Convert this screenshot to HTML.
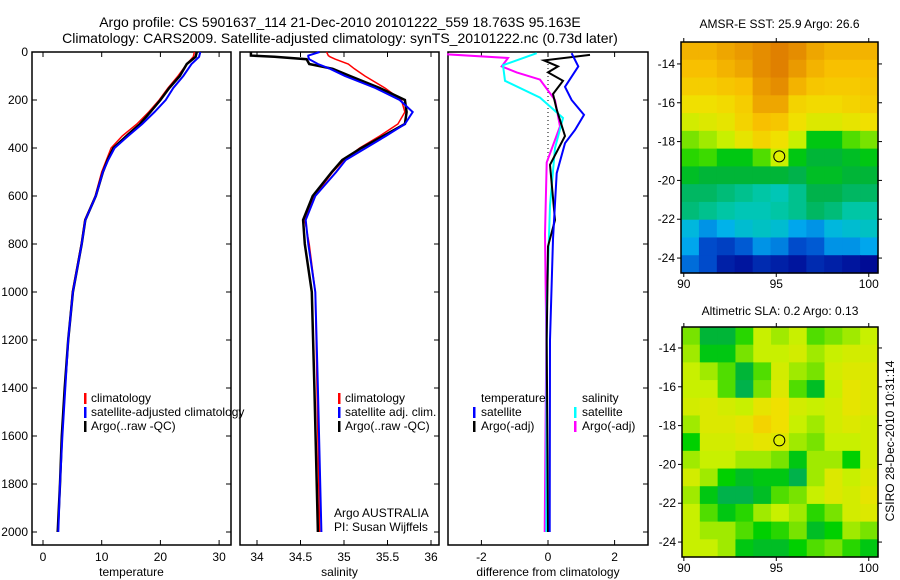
<!DOCTYPE html>
<html><head><meta charset="utf-8"><style>
body{margin:0;background:#fff;}
svg{display:block;font-family:"Liberation Sans",sans-serif;}
</style></head><body>
<svg id="chart" width="900" height="580" xmlns="http://www.w3.org/2000/svg"></svg>
<script>
// ---------- data ----------
const depths = [0,20,50,100,150,200,250,300,350,400,450,500,600,700,800,1000,1200,1400,1600,1800,2000];
const tempArgo = [26.2,26.0,24.5,23.3,21.5,20.0,18.3,16.5,14.2,12.0,11.0,10.2,9.0,7.2,6.6,5.1,4.3,3.7,3.2,2.9,2.5];
const tempClim = [25.8,25.6,24.5,23.0,21.3,19.8,18.0,16.0,13.5,11.6,10.8,10.0,8.9,7.1,6.5,5.0,4.3,3.7,3.2,2.9,2.5];
const tempSat  = [26.8,26.6,25.3,23.9,22.2,20.9,19.0,16.9,14.5,12.2,11.1,10.2,9.0,7.2,6.6,5.1,4.3,3.8,3.3,2.9,2.6];
const salDepths = [0,15,20,30,50,70,100,150,200,250,300,350,400,450,500,600,700,800,1000,1400,2000];
const salArgo = [33.93,33.93,34.2,34.57,34.6,34.87,35.07,35.41,35.7,35.72,35.7,35.45,35.2,34.98,34.86,34.64,34.53,34.55,34.63,34.66,34.7];
const salClim = [34.8,34.82,34.84,34.9,35.05,35.12,35.24,35.47,35.66,35.7,35.62,35.41,35.18,35.0,34.87,34.66,34.55,34.6,34.67,34.69,34.72];
const salSat  = [34.72,34.59,34.59,34.6,34.7,34.84,35.01,35.36,35.64,35.79,35.7,35.48,35.25,35.02,34.91,34.67,34.56,34.59,34.67,34.7,34.74];
const dTempSatDepth = [5,60,145,200,262,325,380,505,780,1200,2000];
const dTempSat = [0.71,0.91,0.51,0.71,1.08,0.81,0.51,0.26,0.15,0.06,0.05];
const dTempArgoDepth = [12,35,60,85,120,175,240,350,470,700,810,1200,2000];
const dTempArgo = [1.26,-0.12,0.3,0.0,0.45,0.15,0.26,0.51,0.06,0.21,0.0,-0.04,0.0];
const dSalSatDepth = [5,55,120,190,275,400,640,1060,2000];
const dSalSat = [-0.34,-1.35,-1.29,-0.24,0.45,0.21,0.06,-0.04,-0.05];
const dSalArgoDepth = [5,10,25,60,85,115,200,310,460,760,1200,2000];
const dSalArgo = [-3.0,-3.0,-1.2,-1.39,-0.94,-0.24,0.21,0.36,-0.04,-0.09,-0.05,-0.1];
const depthTicks = [0,200,400,600,800,1000,1200,1400,1600,1800,2000];
const tempTicks = [0,10,20,30];
const salTicks = [34,34.5,35,35.5,36];
const diffTicks = [-2,0,2];
const latTicks = [-14,-16,-18,-20,-22,-24];
const lonTicks = [90,95,100];
const sstGrid = [
[0.82,0.82,0.84,0.86,0.88,0.9,0.88,0.84,0.82,0.82,0.82],
[0.8,0.8,0.82,0.84,0.88,0.9,0.86,0.82,0.8,0.8,0.8],
[0.76,0.76,0.78,0.8,0.86,0.88,0.82,0.78,0.77,0.77,0.78],
[0.7,0.7,0.72,0.76,0.84,0.84,0.74,0.72,0.72,0.74,0.76],
[0.64,0.66,0.68,0.74,0.8,0.78,0.7,0.66,0.66,0.68,0.7],
[0.58,0.6,0.62,0.68,0.74,0.7,0.62,0.5,0.5,0.56,0.58],
[0.54,0.55,0.5,0.5,0.56,0.62,0.5,0.46,0.46,0.48,0.5],
[0.48,0.46,0.46,0.46,0.46,0.46,0.44,0.48,0.48,0.46,0.46],
[0.42,0.42,0.4,0.38,0.36,0.34,0.38,0.44,0.44,0.42,0.42],
[0.4,0.38,0.36,0.34,0.34,0.36,0.38,0.42,0.4,0.36,0.36],
[0.28,0.22,0.26,0.3,0.32,0.3,0.24,0.22,0.28,0.3,0.32],
[0.24,0.14,0.12,0.16,0.22,0.2,0.14,0.16,0.22,0.22,0.24],
[0.18,0.14,0.06,0.04,0.08,0.06,0.04,0.08,0.06,0.04,0.02]];
const slaGrid = [
[0.58,0.46,0.46,0.54,0.62,0.6,0.62,0.56,0.58,0.6,0.62],
[0.6,0.5,0.5,0.58,0.62,0.62,0.64,0.6,0.62,0.64,0.64],
[0.62,0.6,0.56,0.46,0.56,0.64,0.6,0.58,0.64,0.66,0.66],
[0.62,0.62,0.56,0.44,0.58,0.66,0.56,0.48,0.62,0.68,0.66],
[0.64,0.66,0.64,0.62,0.68,0.7,0.64,0.62,0.64,0.68,0.66],
[0.6,0.66,0.66,0.68,0.74,0.7,0.62,0.6,0.64,0.66,0.64],
[0.52,0.64,0.64,0.66,0.68,0.66,0.6,0.58,0.62,0.62,0.64],
[0.6,0.62,0.62,0.6,0.6,0.58,0.5,0.6,0.6,0.52,0.64],
[0.64,0.6,0.52,0.48,0.5,0.5,0.44,0.6,0.66,0.62,0.66],
[0.6,0.5,0.44,0.44,0.48,0.56,0.58,0.62,0.66,0.64,0.68],
[0.62,0.56,0.5,0.54,0.6,0.62,0.6,0.54,0.58,0.64,0.66],
[0.62,0.6,0.6,0.56,0.52,0.54,0.58,0.48,0.52,0.6,0.58],
[0.62,0.62,0.6,0.5,0.48,0.48,0.52,0.56,0.58,0.54,0.5]];
const floatLon = 95.163, floatLat = -18.763;

// ---------- helpers ----------
const NS="http://www.w3.org/2000/svg";
const svg=document.getElementById('chart');
function mk(tag,attrs,parent){const e=document.createElementNS(NS,tag);for(const k in attrs)e.setAttribute(k,attrs[k]);(parent||svg).appendChild(e);return e;}
function txt(s,x,y,size,anchor,parent){const t=mk('text',{x:x,y:y,'font-size':size,'text-anchor':anchor||'start',fill:'#000'},parent);t.textContent=s;return t;}
const yD=d=>52+d*0.24;
const xT=v=>43+v*5.87;
const xS=v=>257+(v-34)*87;
const xDf=v=>548+v*33.3;

function panel(name,x0,x1,xs,ticks,fmt,label,showY){
  const g=mk('g',{});
  
  
  mk('rect',{x:x0,y:52,width:x1-x0,height:493,fill:'none',stroke:'#000','stroke-width':1.5},g);
  ticks.forEach(t=>{const x=xs(t);
    mk('line',{x1:x,x2:x,y1:545,y2:540,stroke:'#000'},g);
    mk('line',{x1:x,x2:x,y1:52,y2:57,stroke:'#000'},g);
    const tl=txt(fmt(t),x,561,12,'middle',g);
    
    
  });
  depthTicks.forEach(d=>{const y=yD(d);
    mk('line',{x1:x1,x2:x1-5,y1:y,y2:y,stroke:'#000'},g);
    if(showY){mk('line',{x1:x0,x2:x0+5,y1:y,y2:y,stroke:'#000'},g);
      const tl=txt(String(d),28,y+4,12,'end',g);
      
      }
  });
  const xl=txt(label,(x0+x1)/2,576,12,'middle',g);
  
  
  return g;
}
function line(g,xs,vals,ds,color,w,name){
  const pts=vals.map((v,i)=>xs(v).toFixed(1)+','+yD(ds[i]).toFixed(1)).join(' ');
  const p=mk('polyline',{points:pts,fill:'none',stroke:color,'stroke-width':w,'stroke-linejoin':'miter'},g);
  
  
}
function legend(g,items,x,y){
  items.forEach((it,i)=>{
    if(it[1]) mk('rect',{x:x,y:y+i*14-9,width:2.5,height:11,fill:it[1]},g);
    const t=txt(it[0],x+(it[2]||7),y+i*14,12,'start',g);
    
    
  });
}

// titles
let t=txt('Argo profile: CS 5901637_114 21-Dec-2010 20101222_559 18.763S 95.163E',340,27,14,'middle');


t=txt('Climatology: CARS2009. Satellite-adjusted climatology: synTS_20101222.nc (0.73d later)',340,43,14,'middle');



// panel 1 temperature
const g1=panel('temperature-panel',32,231,xT,tempTicks,String,'temperature',true);
line(g1,xT,tempClim,depths,'#f00',1.5,'temp-climatology-line');
line(g1,xT,tempArgo,depths,'#000',2.5,'temp-argo-line');
line(g1,xT,tempSat,depths,'#00f',2,'temp-satellite-line');
legend(g1,[['climatology','#f00'],['satellite-adjusted climatology','#00f'],['Argo(..raw -QC)','#000']],84,402);

// panel 2 salinity
const g2=panel('salinity-panel',240,439,xS,salTicks,String,'salinity',false);
line(g2,xS,salClim,salDepths,'#f00',1.5,'sal-climatology-line');
line(g2,xS,salArgo,salDepths,'#000',2.5,'sal-argo-line');
line(g2,xS,salSat,salDepths,'#00f',2,'sal-satellite-line');
legend(g2,[['climatology','#f00'],['satellite adj. clim.','#00f'],['Argo(..raw -QC)','#000']],338,402);
legend(g2,[['Argo AUSTRALIA',null,0],['PI: Susan Wijffels',null,0]],327,517);

// panel 3 differences
const g3=panel('difference-panel',448,648,xDf,diffTicks,String,'difference from climatology',false);
mk('line',{x1:548,x2:548,y1:52,y2:yD(460),stroke:'#000','stroke-width':1,'stroke-dasharray':'1,3'},g3);
line(g3,xDf,dSalArgo,dSalArgoDepth,'#f0f',2,'sal-argo-diff-line');
line(g3,xDf,dSalSat,dSalSatDepth,'#0ff',2,'sal-satellite-diff-line');
line(g3,xDf,dTempArgo,dTempArgoDepth,'#000',2,'temp-argo-diff-line');
line(g3,xDf,dTempSat,dTempSatDepth,'#00f',2,'temp-satellite-diff-line');
legend(g3,[['temperature',null,8],['satellite','#00f',8],['Argo(-adj)','#000',8]],473,402);
legend(g3,[['salinity',null,8],['satellite','#0ff',8],['Argo(-adj)','#f0f',8]],574,402);

// maps
const stops=[[0,[0,0,140]],[0.15,[0,80,208]],[0.25,[0,176,240]],[0.35,[0,200,176]],[0.45,[0,176,64]],[0.52,[0,208,0]],[0.62,[200,240,0]],[0.7,[240,224,0]],[0.8,[248,192,0]],[0.9,[224,128,0]],[1,[200,60,0]]];
function cmap(v){for(let i=1;i<stops.length;i++){if(v<=stops[i][0]){const a=stops[i-1],b=stops[i],f=(v-a[0])/(b[0]-a[0]);
  return 'rgb('+a[1].map((c,k)=>Math.round(c+(b[1][k]-c)*f)).join(',')+')';}}return 'rgb(200,60,0)';}
function map(name,grid,x0,x1,y0,y1,lonMin,lonMax,latTop,latBot,title,titleY){
  const g=mk('g',{});
  
  
  const xs=lo=>x0+(lo-lonMin)/(lonMax-lonMin)*(x1-x0);
  const ys=la=>y0+(latTop-la)/(latTop-latBot)*(y1-y0);
  const rows=grid.length,cols=grid[0].length;
  const dLon=(lonMax-lonMin)/cols,dLat=(latTop-latBot)/rows;
  grid.forEach((row,r)=>row.forEach((v,c)=>{
    const xa=xs(lonMin+c*dLon),xb=xs(lonMin+(c+1)*dLon),ya=ys(latTop-r*dLat),yb=ys(latTop-(r+1)*dLat);
    const cell=mk('rect',{x:xa.toFixed(2),y:ya.toFixed(2),width:(xb-xa+0.6).toFixed(2),height:(yb-ya+0.6).toFixed(2),fill:cmap(v)},g);
    
    
  }));
  mk('rect',{x:x0,y:y0,width:x1-x0,height:y1-y0,fill:'none',stroke:'#000','stroke-width':1.5},g);
  latTicks.forEach(la=>{const y=ys(la);
    mk('line',{x1:x0-4,x2:x0,y1:y,y2:y,stroke:'#000'},g);
    mk('line',{x1:x1,x2:x1+4,y1:y,y2:y,stroke:'#000'},g);
    const tl=txt(String(la),x0-6,y+4,12,'end',g);
    
    });
  lonTicks.forEach(lo=>{const x=xs(lo);
    mk('line',{x1:x,x2:x,y1:y1,y2:y1+4,stroke:'#000'},g);
    mk('line',{x1:x,x2:x,y1:y0,y2:y0-4,stroke:'#000'},g);
    const tl=txt(String(lo),x,y1+15,12,'middle',g);
    
    });
  const c=mk('circle',{cx:xs(floatLon),cy:ys(floatLat),r:5.5,fill:'#e0f000',stroke:'#000','stroke-width':1},g);
  
  
  const tt=txt(title,(x0+x1)/2,titleY,12,'middle',g);
  
  
}
map('sst-map',sstGrid,681,878,42,273,89.85,100.5,-12.87,-24.77,'AMSR-E SST: 25.9 Argo: 26.6',28);
map('sla-map',slaGrid,682,878,327,557,89.9,100.5,-12.92,-24.77,'Altimetric SLA: 0.2 Argo: 0.13',315);
const cs=txt('CSIRO 28-Dec-2010 10:31:14',0,0,12,'middle');
cs.setAttribute('transform','translate(894,441) rotate(-90)');


</script>
</body></html>
